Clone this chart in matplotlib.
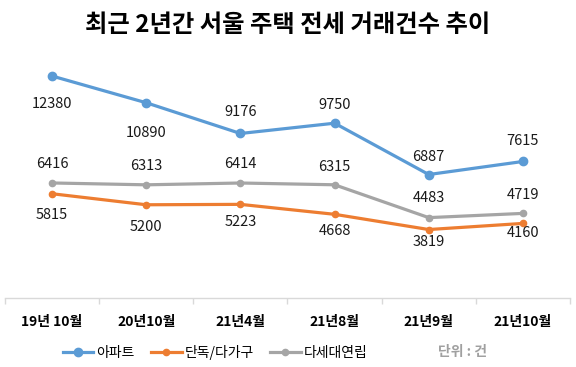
import matplotlib.pyplot as plt

plt.rcParams['font.family'] = ['Noto Sans CJK KR', 'DejaVu Sans']

months = ["19년 10월", "20년10월", "21년4월", "21년8월", "21년9월", "21년10월"]
apt = [12380, 10890, 9176, 9750, 6887, 7615]
house = [5815, 5200, 5223, 4668, 3819, 4160]
villa = [6416, 6313, 6414, 6315, 4483, 4719]

# label offsets in pixels (+ is above the point)
apt_off = [-28, -30, 21, 18, 18, 20]
house_off = [-21, -22, -18, -17, -12, -10]
villa_off = [19, 19, 19, 18, 20, 18]

fig = plt.figure(figsize=(5.76, 3.67), dpi=100)
ax = fig.add_axes([5 / 576, 69 / 367, 565 / 576, 251 / 367])

x = list(range(len(months)))
series = [
    (apt, "아파트", "#5B9BD5", 2.3, 6, apt_off),
    (house, "단독/다가구", "#ED7D31", 2.3, 4.5, house_off),
    (villa, "다세대연립", "#A5A5A5", 2.3, 4.5, villa_off),
]
for vals, name, col, lw, ms, offs in series:
    ax.plot(x, vals, color=col, lw=lw, marker="o", ms=ms, label=name)
    for xi, v, o in zip(x, vals, offs):
        ax.annotate(str(v), (xi, v), xytext=(0, o * 0.72), textcoords="offset points",
                    ha="center", va="center", fontsize=10.5, fontweight="medium",
                    color="#1a1a1a")

ax.set_xlim(-0.5, len(months) - 0.5)
ax.set_ylim(0, 14000)
ax.set_yticks([])
for s in ["top", "left", "right"]:
    ax.spines[s].set_visible(False)
ax.spines["bottom"].set_color("#D9D9D9")
ax.spines["bottom"].set_linewidth(1)
ax.set_xticks([i - 0.5 for i in range(len(months) + 1)], minor=False)
ax.set_xticklabels([])
ax.tick_params(axis="x", length=4, color="#D9D9D9", width=1)
ax.set_xticks(x, minor=True)
ax.set_xticklabels(months, minor=True, fontsize=10, fontweight="bold")
ax.tick_params(axis="x", which="minor", length=0, pad=12)

fig.text(0.5, 1 - 25 / 367, "최근 2년간 서울 주택 전세 거래건수 추이", ha="center", va="center",
         fontsize=17.5, fontweight="bold")

fig.legend(loc="center", bbox_to_anchor=(215 / 576, 1 - 352 / 367), ncol=3, frameon=False,
           fontsize=10, handlelength=2.2, columnspacing=1.2, handletextpad=0.2)
fig.text(462 / 576, 1 - 352 / 367, "단위 : 건", ha="center", va="center", fontsize=10,
         color="#A0A0A0", fontweight="bold")

fig.savefig("out.png", dpi=100)
